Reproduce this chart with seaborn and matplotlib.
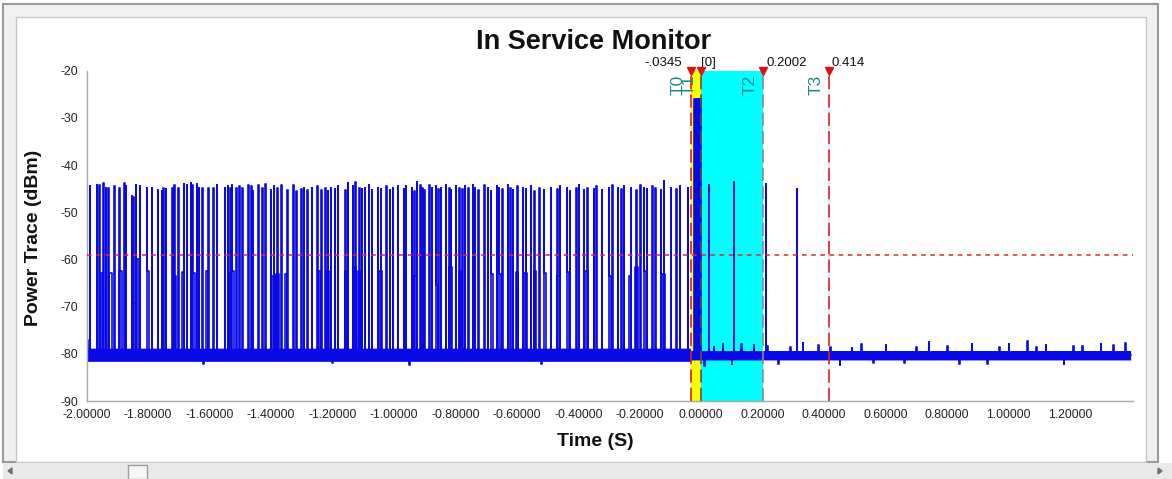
"""
In Service Monitor power trace, rebuilt with seaborn/matplotlib
"""
import numpy as np
import pandas as pd
import matplotlib

matplotlib.use("Agg")
import matplotlib.pyplot as plt
from matplotlib.patches import Rectangle, Polygon
import seaborn as sns

# ---- values ----
# tall pulses before the trigger (time in s, peak in dBm)
tall_t = [
    -1.999, -1.989, -1.967, -1.959, -1.945, -1.937, -1.929, -1.910, -1.893, -1.877,
    -1.872, -1.853, -1.848, -1.840, -1.826, -1.804, -1.788, -1.768, -1.755, -1.750,
    -1.742, -1.721, -1.714, -1.701, -1.683, -1.674, -1.660, -1.656, -1.642, -1.634,
    -1.623, -1.604, -1.588, -1.577, -1.550, -1.541, -1.533, -1.528, -1.512, -1.503,
    -1.494, -1.473, -1.464, -1.459, -1.442, -1.429, -1.419, -1.401, -1.390, -1.380,
    -1.366, -1.347, -1.328, -1.318, -1.301, -1.293, -1.282, -1.267, -1.249, -1.236,
    -1.223, -1.215, -1.206, -1.193, -1.182, -1.158, -1.150, -1.133, -1.126, -1.112,
    -1.104, -1.095, -1.082, -1.072, -1.052, -1.043, -1.025, -1.014,
    -1.004, -0.988, -0.968, -0.961, -0.942, -0.934, -0.925, -0.914, -0.907, -0.901,
    -0.885, -0.877, -0.863, -0.856, -0.847, -0.831, -0.820, -0.815, -0.798, -0.788,
    -0.777, -0.769, -0.758, -0.744, -0.737, -0.726, -0.706, -0.695, -0.685, -0.665,
    -0.658, -0.647, -0.630, -0.622, -0.614, -0.598, -0.581, -0.571, -0.554, -0.544,
    -0.527, -0.513,
    -0.490, -0.469, -0.460, -0.438, -0.428, -0.406, -0.398, -0.382, -0.371, -0.350,
    -0.341, -0.323, -0.301, -0.290, -0.272, -0.261, -0.252, -0.230, -0.211, -0.198,
    -0.187, -0.178, -0.160, -0.149, -0.131, -0.122, -0.100, -0.081, -0.070, -0.044,
]
tall_peak = [
    -44.5, -44.5, -44.2, -44.2, -43.7, -44.9, -44.9, -44.4, -44.9, -43.8,
    -44.4, -46.5, -46.7, -44.2, -44.4, -44.9, -44.9, -45.3, -45.4, -44.9,
    -45.1, -44.9, -44.2, -44.9, -44.0, -44.2, -43.8, -44.2, -44.0, -44.9,
    -44.9, -44.9, -44.9, -44.2, -44.9, -44.5, -44.9, -44.2, -44.9, -44.5,
    -44.9, -44.2, -44.5, -45.6, -44.2, -44.9, -44.0, -45.3, -44.5, -44.9,
    -44.2, -45.3, -44.2, -45.6, -45.1, -44.9, -45.3, -44.9, -44.5, -45.3,
    -44.9, -45.6, -44.9, -45.1, -44.5, -45.3, -43.8, -44.5, -43.5, -44.9,
    -45.1, -44.9, -44.2, -45.3, -44.9, -45.1, -44.5, -45.3,
    -44.9, -44.5, -45.1, -44.5, -44.9, -45.6, -43.5, -44.2, -44.9, -45.3,
    -44.2, -44.9, -44.5, -45.1, -44.9, -44.2, -44.9, -45.3, -44.5, -44.9,
    -45.1, -44.5, -44.9, -44.2, -44.9, -45.3, -44.2, -44.9, -45.6, -44.5,
    -44.9, -45.1, -44.2, -44.9, -45.3, -44.5, -44.9, -45.1, -44.5, -45.6,
    -44.9, -45.3,
    -44.9, -45.1, -44.5, -44.9, -45.6, -44.9, -44.2, -45.3, -44.9, -45.1,
    -44.5, -45.3, -44.9, -44.2, -44.9, -45.1, -44.5, -44.9, -45.3, -44.2,
    -44.9, -45.1, -44.5, -44.9, -45.3, -43.3, -44.9, -45.1, -44.5, -44.9,
]
# shorter, wider bursts reaching about -63 dBm
short_t = [
    -1.956, -1.926, -1.893, -1.848, -1.837, -1.804, -1.718, -1.690, -1.656, -1.612,
    -1.537, -1.528, -1.396, -1.383, -1.355, -1.247, -1.220, -1.160, -1.130, -1.117,
    -1.047, -0.934, -0.863, -0.820, -0.788, -0.685, -0.658, -0.603, -0.576, -0.544,
    -0.512, -0.469, -0.438, -0.377, -0.301, -0.236, -0.214, -0.187, -0.127,
]
short_peak = [
    -62.8, -62.8, -62.4, -69.2, -60.0, -62.4, -63.6, -62.6, -62.8, -62.4,
    -62.8, -62.4, -63.6, -63.0, -63.0, -62.5, -62.4, -62.4, -61.5, -62.4,
    -62.4, -63.6, -65.4, -61.6, -62.4, -63.0, -63.0, -62.6, -62.8, -62.4,
    -62.8, -63.6, -62.6, -62.4, -63.6, -63.6, -61.6, -62.4, -63.0,
]
# dense burst between T0 and T1
burst_t = [-0.025, -0.0225, -0.020, -0.0175, -0.015, -0.0125, -0.010, -0.0075, -0.005, -0.0025]
burst_peak = [-26.2, -26.0, -26.2, -26.0, -26.2, -26.0, -26.2, -26.0, -26.2, -26.0]
# isolated pulses after the trigger
after_t = [0.025, 0.106, 0.210, 0.310]
after_peak = [-44.2, -43.5, -44.0, -45.1]
# noise spikes on the floor
spike_t = [
    -1.998, -1.62, -1.20, -0.95, -0.52, 0.010, 0.040, 0.070, 0.100, 0.130,
    0.170, 0.215, 0.250, 0.290, 0.330, 0.380, 0.420, 0.450, 0.490, 0.520,
    0.560, 0.600, 0.660, 0.700, 0.740, 0.800, 0.840, 0.880, 0.930, 0.970,
    1.000, 1.060, 1.090, 1.120, 1.180, 1.210, 1.240, 1.300, 1.340, 1.380,
]
spike_v = [
    -77.0, -82.2, -82.0, -82.3, -82.1, -82.5, -78.6, -78.0, -82.1, -77.9,
    -78.2, -78.4, -82.2, -78.6, -77.8, -78.2, -78.5, -82.3, -78.7, -77.9,
    -82.0, -78.1, -82.0, -78.5, -77.6, -78.3, -82.1, -77.9, -82.1, -78.6,
    -78.0, -77.2, -78.6, -78.1, -82.2, -78.4, -78.3, -77.9, -78.2, -77.8,
]
floor_level = -80.2
trace_start, trace_end = -1.999, 1.397
# noise floor envelope
env_t = [-1.999, -0.036, -0.034, 1.397]
env_hi = [-78.8, -78.8, -79.3, -79.3]
env_lo = [-81.6, -81.6, -81.3, -81.3]

threshold = -59.0
cursor_names = ["T0", "T1", "T2", "T3"]
cursor_t = [-0.0345, 0.0, 0.2002, 0.414]
cursor_text = ["-.0345", "[0]", "0.2002", "0.414"]

x_ticks = [-2.0, -1.8, -1.6, -1.4, -1.2, -1.0, -0.8, -0.6, -0.4, -0.2, 0.0, 0.2, 0.4, 0.6, 0.8, 1.0, 1.2]
x_tick_labels = [
    "-2.00000", "-1.80000", "-1.60000", "-1.40000", "-1.20000", "-1.00000", "-0.80000",
    "-0.60000", "-0.40000", "-0.20000", "0.00000", "0.20000", "0.40000", "0.60000",
    "0.80000", "1.00000", "1.20000",
]
y_ticks = [-90, -80, -70, -60, -50, -40, -30, -20]

W, H = 1172, 479
BLUE = "#0a0ae6"


def px_rect(fig, x0, y0, x1, y1, **kw):
    """Rectangle given in screenshot pixels (top-left origin)"""
    r = Rectangle((x0 / W, 1 - y1 / H), (x1 - x0) / W, (y1 - y0) / H,
                  transform=fig.transFigure, zorder=-5, **kw)
    fig.add_artist(r)


def px_tri(fig, pts, color):
    p = Polygon([(x / W, 1 - y / H) for x, y in pts], closed=True,
                transform=fig.transFigure, color=color, zorder=-4)
    fig.add_artist(p)


# build the trace as one line (floor -> peak -> floor for each event)
events = []
for t, p in zip(tall_t, tall_peak):
    events.append((t, 0.0016, p))
for t, p in zip(short_t, short_peak):
    events.append((t, 0.008, p))
for t, p in zip(burst_t, burst_peak):
    events.append((t, 0.002, p))
for t, p in zip(after_t, after_peak):
    events.append((t, 0.0012, p))
for t, p in zip(spike_t, spike_v):
    events.append((t, 0.0015, p))
events.sort()

ts, ps = [trace_start], [floor_level]
for t, w, p in events:
    ts += [t, t, t + w, t + w]
    ps += [floor_level, p, p, floor_level]
ts.append(trace_end)
ps.append(floor_level)
trace = pd.DataFrame({"time": ts, "power": ps})

sns.set_style("white")
plt.rcParams["font.family"] = ["Liberation Sans", "DejaVu Sans"]
plt.rcParams["axes.unicode_minus"] = False

fig = plt.figure(figsize=(W / 100, H / 100), dpi=100)
fig.patch.set_facecolor("white")

# window frame
px_rect(fig, 3, 4, 1158, 462, facecolor="#f0f0f0", edgecolor="#9a9a9a", lw=1.5)
px_rect(fig, 16, 17, 1146, 462, facecolor="white", edgecolor="#c8c8c8", lw=1)
px_rect(fig, 3, 463, 1172, 479, facecolor="#e9e9e9", edgecolor="none")
px_rect(fig, 128, 465, 147, 479, facecolor="#f6f6f6", edgecolor="#a0a0a0", lw=1)
px_tri(fig, [(8, 471), (12, 468), (12, 474)], "#707070")
px_tri(fig, [(1162, 471), (1158, 468), (1158, 474)], "#707070")

ax = fig.add_axes([86.5 / W, (H - 401) / H, 1046 / W, 330.3 / H])
ax.set_facecolor("white")

# marker regions
ax.axvspan(cursor_t[0], cursor_t[1], color="#ffff00", lw=0, zorder=0)
ax.axvspan(cursor_t[1], cursor_t[2], color="#00ffff", lw=0, zorder=0)

# noise floor band and trace
ax.fill_between(env_t, env_lo, env_hi, color=BLUE, lw=0, zorder=2)
sns.lineplot(data=trace, x="time", y="power", sort=False, estimator=None,
             color=BLUE, lw=1.2, ax=ax, zorder=2)

# threshold line
ax.axhline(threshold, color="#e02828", lw=1.1, ls=(0, (3, 3)), zorder=3)

# cursors
line_colors = ["#d82020", "#6e4a3a", "#8c8c8c", "#d82020"]
for name, t, txt, c in zip(cursor_names, cursor_t, cursor_text, line_colors):
    ax.axvline(t, color=c, lw=1.2, ls=(0, (8, 3)), zorder=4)
    ax.annotate(name, (t, -20), xytext=(-3.5, -3), textcoords="offset points",
                rotation=90, ha="right", va="top", fontsize=12.5, color="#1f8787",
                zorder=6)
    if txt.startswith("-"):
        ax.annotate(txt, (t, -20), xytext=(-6, 3.5), textcoords="offset points",
                    ha="right", va="baseline", fontsize=9.5, color="#111111",
                    annotation_clip=False)
    else:
        dx = 0 if txt == "[0]" else 2.5
        ax.annotate(txt, (t, -20), xytext=(dx, 3.5), textcoords="offset points",
                    ha="left", va="baseline", fontsize=9.5, color="#111111",
                    annotation_clip=False)
ax.plot(cursor_t, [-20] * len(cursor_t), "v", color="#e01010", ms=6,
        clip_on=False, zorder=7)

ax.set_xlim(-2.0, 1.403)
ax.set_ylim(-90, -20)
ax.set_xticks(x_ticks)
ax.set_xticklabels(x_tick_labels)
ax.set_yticks(y_ticks)
ax.set_xlabel("")
ax.set_ylabel("")

for side in ["top", "right"]:
    ax.spines[side].set_visible(False)
for side in ["left", "bottom"]:
    ax.spines[side].set_color("#a8a8a8")
    ax.spines[side].set_linewidth(1)
ax.tick_params(direction="out", length=4, width=1, color="#a8a8a8",
               labelcolor="#222222", labelsize=8.8, pad=2)

fig.text(594 / W, 1 - 42 / H, "In Service Monitor", ha="center", va="center",
         fontsize=19.5, fontweight="bold", color="#111111")
fig.text(595 / W, 1 - 442 / H, "Time (S)", ha="center", va="center",
         fontsize=14, fontweight="bold", color="#111111")
fig.text(34 / W, 1 - 238 / H, "Power Trace (dBm)", ha="center", va="center",
         rotation=90, fontsize=14, fontweight="bold", color="#111111")

fig.savefig("out.png", dpi=100)
